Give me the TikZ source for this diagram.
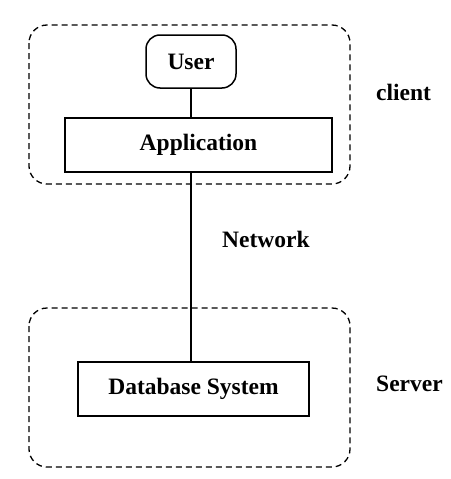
\documentclass[tikz,border=0pt]{standalone}
\usepackage{fontspec}
\setmainfont{Liberation Serif}
\begin{document}
\begin{tikzpicture}[x=1pt,y=-1pt,
  lbl/.style={font=\fontsize{23.5}{28}\selectfont\bfseries},
  boxnode/.style={draw,line width=1.5pt,inner sep=0pt,lbl},
  group/.style={draw,line width=1.3pt,dash pattern=on 6pt off 4pt,rounded corners=18pt},
  wire/.style={line width=1.5pt}]
\useasboundingbox (0,0) rectangle (450,479);
\draw[group] (29,25) rectangle (350,184);
\draw[group] (29,308) rectangle (350,467);
\node[boxnode,rounded corners=14pt,minimum width=90pt,minimum height=53pt] (user) at (191,61.5) {User};
\node[boxnode,minimum width=267pt,minimum height=54pt] (app) at (198.5,145) {Application};
\node[boxnode,minimum width=231pt,minimum height=54pt] (db) at (193.5,389) {Database System};
\draw[wire] (user.south) -- (user.south |- app.north);
\draw[wire] (user.south |- app.south) -- (user.south |- db.north);
\node[lbl,anchor=base west,inner sep=0pt] (client) at (376,100) {client};
\node[lbl,anchor=base west,inner sep=0pt] (net) at (222,247) {Network};
\node[lbl,anchor=base west,inner sep=0pt] (server) at (376,391) {Server};
\end{tikzpicture}
\end{document}
